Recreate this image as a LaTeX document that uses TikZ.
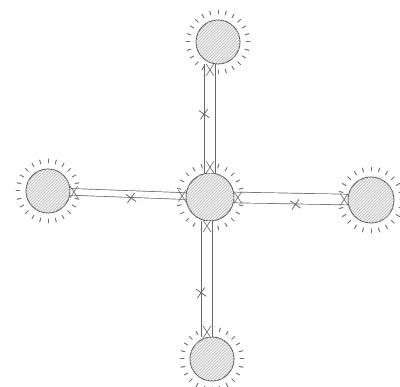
\documentclass[tikz,border=0pt]{standalone}
\usetikzlibrary{patterns,shapes.misc,calc}
\begin{document}
\begin{tikzpicture}[x=1pt,y=-1pt,
  blob/.style={circle,draw=black!65,line width=0.9pt,fill=gray!10,
    postaction={pattern=north east lines,pattern color=gray!55},
    inner sep=0pt,minimum size=#1},
  link/.style={draw=black!60,line width=0.7pt,double=white,double distance=#1},
  xmk/.style={cross out,draw=black!60,line width=0.8pt,minimum size=8pt,inner sep=0pt,rotate=10},
  tick/.style={cross out,draw=black!60,line width=0.6pt,minimum width=7pt,minimum height=11pt,inner sep=0pt},
  ray/.style={draw=black!55,line width=1pt,line cap=round}]
\useasboundingbox (0,0) rectangle (400,387);
% nodes
\node[blob=48pt] (C) at (210,197) {};
\node[blob=44pt] (T) at (218,42) {};
\node[blob=44pt] (L) at (48,191) {};
\node[blob=46pt] (R) at (371,200) {};
\node[blob=44pt] (B) at (212,359) {};
% glow rays
\foreach \n/\r in {C/24,T/22,L/22,R/23,B/22}{
  \foreach \a in {0,15,...,345}{
    \draw[ray] ($(\n)+(\a:\r+6)$) -- ($(\n)+(\a:\r+10)$);
  }
}
% connectors
\draw[link=10pt] (C.north) -- node[pos=0.05,tick] (t1) {} node[pos=0.55,xmk,xshift=-6pt] (m1) {} node[pos=0.95,tick] (t2) {} (C.north |- T.south);
\draw[link=6pt] (L) -- node[pos=0.03,tick] (t3) {} node[pos=0.52,xmk,yshift=-4pt] (m2) {} node[pos=0.97,tick] (t4) {} (C);
\draw[link=10pt] (C) -- node[pos=0.03,tick] (t5) {} node[pos=0.53,xmk,yshift=-6pt] (m3) {} node[pos=0.97,tick] (t6) {} (R);
\draw[link=10pt] ([xshift=-3pt]C.south) -- node[pos=0.04,tick] (t7) {} node[pos=0.61,xmk,xshift=-6pt] (m4) {} node[pos=0.96,tick] (t8) {} ([xshift=-3pt]C.south |- B.north);
\end{tikzpicture}
\end{document}
